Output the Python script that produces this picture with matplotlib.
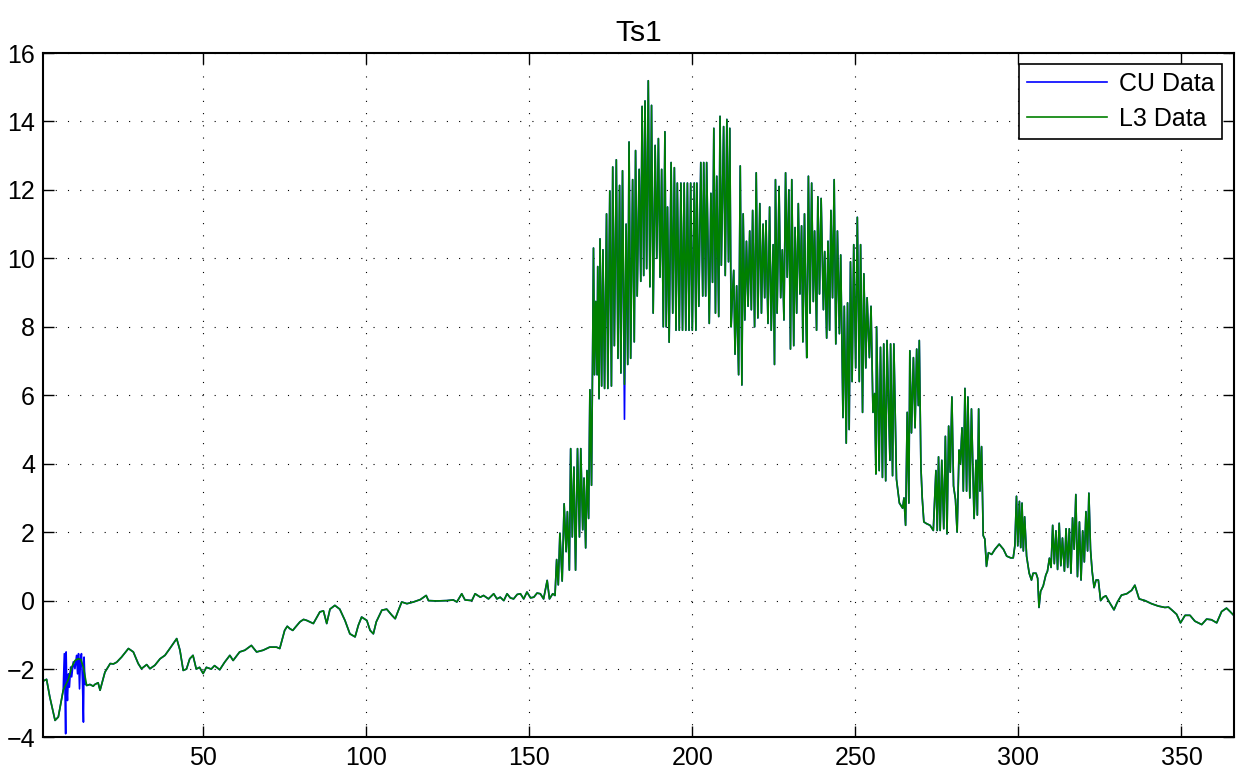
from __future__ import annotations

from typing import List

import numpy as np
import matplotlib
matplotlib.use("Agg")
import matplotlib.pyplot as plt


# --- L3 series (day of year, Ts1) ---
l3_day: List[float] = [
    1, 2, 3, 4.6, 5.6, 7.1, 8.7, 9.7, 10.7, 11.7, 12.5, 13.3, 14.3, 15.3, 16.3, 16.8,
    17.8, 18.4, 19.9, 21.5, 22.5, 23.5, 25.0, 27.1, 28.6, 30.1, 31.1, 32.7, 33.7, 35.2,
    36.8, 38.3, 39.8, 40.8, 41.9, 42.9, 43.9, 44.9, 45.9, 46.9, 47.9, 48.9, 50.0, 51.0,
    52.5, 53.5, 55.1, 56.6, 58.2, 59.2, 61.2, 62.8, 64.8, 66.4, 68.4, 70.4, 72.5, 73.5,
    75.0, 75.8, 76.6, 77.5, 78.1, 79.7, 80.8, 81.8, 83.8, 85.8, 86.9, 87.9, 88.9, 90.4,
    91.9, 93.5, 95.0, 96.6, 97.6, 98.6, 100.2, 101.2, 102.2, 103.1, 104.8, 106.3, 107.9,
    108.9, 109.9, 110.9, 112.5, 114.5, 116.6, 118.4, 119.1, 121.7, 124.7, 126.7, 127.8,
    129.3, 130.3, 132.4, 133.4, 135.0, 136.0, 137.5, 139.1, 140.1, 141.1, 142.2, 143.2,
    144.2, 145.2, 146.3, 147.3, 148.3, 149.3, 150.4, 151.4, 152.4, 153.4, 154.4, 155.5,
    156.2, 157.2, 157.9, 158.4, 158.9, 159.4, 160.1, 160.7,
    161.3, 161.7, 162.3, 162.7, 163.2, 163.7, 164.2, 164.8, 165.4, 165.8, 166.4, 166.8,
    167.3, 167.7, 168.2, 168.6, 169.1, 169.5, 169.7, 170.0, 170.4, 170.8, 171.0, 171.4,
    171.7, 172.2, 172.6, 173.1, 173.7, 174.1, 174.7, 175.2, 175.6, 176.1, 176.7, 177.2,
    177.7, 178.1, 178.6, 179.2, 179.7, 180.2, 180.6, 181.1, 181.7, 182.2, 182.6, 183.1,
    183.7, 184.2, 184.6, 185.1, 185.5, 186.0, 186.5, 187.0, 187.5, 188.0, 188.6, 189.1,
    189.6, 190.1, 190.6, 191.1, 191.6, 192.0, 192.4, 192.9, 193.5, 194.0, 194.5,
    195.0, 195.4, 196.0, 196.5, 197.0, 197.5, 198.0, 198.5, 199.0, 199.5, 200.0, 200.6,
    201.1, 201.4, 202.0, 202.6, 203.2, 203.5, 204.1, 204.4, 205.2, 205.7, 206.2, 206.6,
    207.1, 207.5, 208.1, 208.5, 208.9, 209.6, 210.1, 210.6, 211.1, 211.5, 211.9, 212.3,
    212.7, 213.1, 213.6, 214.2, 214.7, 215.2, 215.6, 216.1, 216.6, 217.1, 217.6, 218.1,
    218.5, 219.1, 219.6, 220.1, 220.7, 221.2, 221.7, 222.2, 222.6, 223.2, 223.7, 224.2,
    224.8, 225.2, 225.5, 226.0, 226.6, 227.1, 227.6, 228.1, 228.6, 229.1, 229.6, 230.1,
    230.5, 231.1, 231.5, 232.0, 232.5, 233.0, 233.5, 233.9, 234.4, 234.8, 235.1, 235.6,
    236.1, 236.6, 237.1, 237.5, 238.1, 238.5, 239.0, 239.5, 240.2, 240.6, 241.2, 241.6,
    242.1, 242.5, 243.0, 243.5, 244.0, 244.5, 245.1, 245.5, 246.2, 246.6, 247.2, 247.6,
    248.1, 248.5, 249.0, 249.5, 250.1, 250.6, 251.2, 251.6, 252.2, 252.6, 253.2, 253.6,
    254.3, 254.8, 255.4, 255.9, 256.3, 256.5, 257.3, 257.7, 258.3, 258.7, 259.3, 259.7,
    260.6, 260.8, 261.4, 261.8, 262.6, 263.5, 264.5, 264.9, 265.4, 265.9, 266.4, 266.7,
    267.2, 267.8, 268.3, 268.8, 269.3, 269.6, 270.1, 270.5, 271.0, 271.8, 272.9, 273.9,
    274.7, 275.1, 275.5, 276.0, 276.5, 277.1, 277.6, 278.1, 278.6, 279.1, 279.6, 280.1,
    280.7, 281.2, 281.8, 282.2, 282.7, 283.1, 283.6, 284.1, 284.5, 285.1, 285.6, 286.4,
    287.0, 287.4, 287.8, 288.2, 288.7, 289.2, 289.7, 290.2, 290.8, 291.8, 292.8, 294.1,
    295.4, 296.4, 297.6, 298.4, 298.9, 299.4, 299.8, 300.3, 300.7, 301.1, 301.5, 301.9,
    302.5, 303.3, 304.0, 304.5, 305.4, 305.9, 306.3, 306.8, 307.6, 308.4, 308.9, 309.5,
    310.0, 310.5, 311.0, 311.5, 312.0, 312.5, 313.0, 313.5, 314.1, 314.6, 315.1, 315.6,
    316.1, 316.6, 317.1, 317.6, 318.1, 318.7, 319.2, 319.7, 320.2, 320.7, 321.2, 321.6,
    322.1, 322.6, 323.2, 323.8, 324.5, 325.2, 326.0, 326.8, 327.9, 329.3, 330.3, 331.6,
    333.2, 334.7, 335.7, 337.0, 338.8, 340.8, 342.9, 344.9, 346.0, 347.0, 348.5, 349.7,
    351.1, 352.6, 354.1, 356.2, 357.7, 359.2, 360.8, 362.3, 363.8, 364.9, 366.0,
]

l3_ts1: List[float] = [
    -2.35, -2.3, -2.82, -3.5, -3.4, -2.62, -2.3, -1.94, -1.75, -1.7, -1.72, -1.95, -2.48, -2.45, -2.5, -2.45,
    -2.4, -2.62, -2.09, -1.84, -1.85, -1.8, -1.65, -1.4, -1.5, -1.84, -1.99, -1.87, -1.99, -1.89,
    -1.7, -1.6, -1.4, -1.26, -1.11, -1.45, -2.04, -2.0, -1.7, -1.6, -2.0, -1.95, -2.13, -1.95,
    -2.0, -1.9, -2.02, -1.8, -1.6, -1.75, -1.5, -1.45, -1.31, -1.5, -1.45, -1.36, -1.36, -1.4,
    -0.87, -0.75, -0.82, -0.87, -0.8, -0.62, -0.55, -0.58, -0.67, -0.33, -0.3, -0.67, -0.25, -0.14,
    -0.25, -0.58, -0.97, -1.06, -0.72, -0.48, -0.58, -0.87, -0.97, -0.62, -0.28, -0.25, -0.43,
    -0.53, -0.28, -0.04, -0.09, -0.04, 0.03, 0.15, 0.0, -0.01, 0.0, 0.02, -0.04,
    0.2, 0.02, 0.0, 0.2, 0.1, 0.15, 0.05, 0.2, 0.05, 0.1, 0.0, 0.2,
    0.08, 0.05, 0.18, 0.2, 0.05, 0.25, 0.08, 0.1, 0.22, 0.2, 0.05, 0.59,
    0.05, 0.2, 0.15, 1.2, 0.46, 1.97, 0.57, 2.83,
    1.43, 2.6, 0.89, 4.44, 1.86, 3.9, 0.89, 4.44, 1.86, 4.44, 2.07, 3.58,
    1.54, 3.8, 2.4, 6.16, 3.37, 8.0, 10.3, 6.6, 8.74, 6.6, 9.76, 5.9,
    10.57, 6.27, 10.25, 6.2, 11.3, 6.2, 11.97, 6.27, 12.67, 7.45, 12.88, 7.08,
    12.13, 6.65, 12.56, 6.32, 11.0, 6.9, 13.4, 7.08, 12.3, 7.56, 13.15, 8.9,
    12.6, 9.33, 14.44, 9.5, 14.6, 9.7, 15.19, 9.17, 14.47, 8.4, 13.3, 10.0,
    13.5, 9.45, 12.6, 8.0, 13.7, 8.0, 11.5, 7.55, 12.8, 8.4, 12.65,
    7.9, 12.2, 7.9, 12.2, 7.9, 12.2, 7.9, 12.2, 7.9, 12.2, 7.9, 12.2,
    7.9, 12.2, 8.6, 12.8, 8.9, 12.8, 8.9, 12.8, 8.1, 11.9, 9.3, 13.8,
    8.4, 12.4, 8.3, 14.15, 9.8, 13.85, 9.5, 14.06, 9.9, 13.8, 8.0, 8.9,
    9.65, 7.2, 9.2, 6.6, 12.7, 6.3, 11.3, 8.2, 10.5, 8.6, 10.8, 8.5,
    11.4, 8.0, 12.5, 8.26, 11.6, 8.4, 11.0, 8.85, 11.1, 8.1, 11.5, 7.9,
    10.4, 6.9, 12.3, 8.4, 12.1, 8.85, 10.25, 8.2, 12.5, 9.45, 12.0, 7.35,
    12.3, 7.45, 10.9, 8.4, 11.6, 8.96, 10.95, 7.56, 11.3, 8.6, 7.1, 12.4,
    8.4, 12.2, 8.74, 10.8, 7.9, 11.8, 8.96, 11.75, 8.5, 10.2, 7.67, 10.5,
    7.9, 11.4, 8.85, 12.3, 7.5, 10.8, 7.8, 10.1, 5.35, 8.6, 4.6, 8.7,
    5.0, 9.9, 6.4, 10.4, 6.8, 11.2, 6.4, 10.4, 5.5, 9.55, 6.8, 8.85,
    7.1, 8.6, 5.5, 6.05, 3.7, 8.0, 3.8, 7.4, 3.6, 7.5, 3.5, 7.6,
    4.1, 7.5, 3.65, 7.5, 3.55, 2.85, 2.7, 3.0, 2.2, 5.5, 2.85, 7.3,
    4.9, 7.1, 5.05, 7.35, 5.7, 7.6, 3.9, 3.0, 2.3, 2.25, 2.2, 2.05,
    3.8, 2.05, 4.2, 2.05, 4.1, 2.1, 4.8, 1.95, 5.1, 3.75, 5.95, 3.35,
    2.95, 2.0, 4.4, 4.0, 5.05, 3.2, 6.2, 3.2, 5.95, 3.0, 5.6, 2.4,
    4.1, 2.5, 5.6, 3.2, 4.5, 1.9, 1.8, 1.0, 1.4, 1.35, 1.5, 1.65,
    1.5, 1.3, 1.25, 1.25, 1.6, 3.05, 1.6, 2.9, 1.55, 2.85, 1.45, 2.45,
    1.3, 0.8, 0.6, 0.8, 0.8, 0.65, -0.2, 0.27, 0.43, 0.75, 0.86, 1.24,
    0.97, 2.2, 1.08, 2.04, 0.91, 2.26, 1.02, 1.83, 0.86, 2.1, 0.97, 2.1,
    0.8, 2.42, 1.5, 3.1, 0.7, 2.3, 0.6, 2.04, 1.13, 2.6, 1.45, 3.14,
    1.5, 0.86, 0.38, 0.6, 0.6, 0.0, 0.1, 0.14, -0.05, -0.27, -0.05, 0.16,
    0.2, 0.3, 0.45, 0.05, 0.0, -0.09, -0.16, -0.2, -0.19, -0.27, -0.4, -0.65,
    -0.43, -0.43, -0.6, -0.7, -0.54, -0.56, -0.65, -0.32, -0.22, -0.32, -0.43,
]

# --- CU series differs only where the blue shows through ---
cu_spike_day: List[float] = [
    7.45, 7.65, 7.85, 8.0, 8.2, 8.4, 8.7, 9.0, 9.4, 9.7, 10.2, 10.7,
    11.2, 11.5, 11.8, 12.1, 12.4, 12.7, 13.0, 13.3, 13.5, 13.8,
]
cu_spike_ts1: List[float] = [
    -1.55, -2.62, -3.89, -1.5, -2.55, -2.92, -2.14, -2.53, -1.94, -2.23, -1.79, -1.99,
    -1.6, -2.14, -1.55, -2.58, -1.7, -1.55, -2.33, -3.55, -1.65, -2.43,
]
cu_dip_day = 179.2
cu_dip_ts1 = 5.3

x_ticks = [50, 100, 150, 200, 250, 300, 350]
y_ticks = list(range(-4, 17, 2))


def build_cu(day: np.ndarray, ts1: np.ndarray) -> tuple:
    keep = (day < cu_spike_day[0]) | (day > cu_spike_day[-1])
    d = np.concatenate([day[keep], cu_spike_day])
    v = np.concatenate([ts1[keep], cu_spike_ts1])
    order = np.argsort(d, kind="stable")
    d, v = d[order], v[order]
    v[np.isclose(d, cu_dip_day)] = cu_dip_ts1
    return d, v


def main() -> None:
    plt.rcParams["font.family"] = ["Liberation Sans", "DejaVu Sans"]
    plt.rcParams["font.size"] = 18

    day = np.array(l3_day, dtype=float)
    ts1 = np.array(l3_ts1, dtype=float)
    cu_d, cu_v = build_cu(day, ts1)

    fig = plt.figure(figsize=(12.41, 7.81), dpi=100)
    ax = fig.add_axes([0.0349, 0.0557, 0.9592, 0.8764])

    ax.plot(cu_d, cu_v, color=(0, 0, 1), lw=1.2, label="CU Data")
    ax.plot(day, ts1, color=(0, 0.5, 0), lw=1.2, label="L3 Data")

    ax.set_xlim(1, 366)
    ax.set_ylim(-4, 16)
    ax.set_xticks(x_ticks)
    ax.set_yticks(y_ticks)
    ax.grid(True, color="k", lw=0.8, linestyle=(0, (1, 10)))
    ax.tick_params(direction="in", length=8, width=1, top=True, right=True, pad=6)
    for s in ax.spines.values():
        s.set_linewidth(1.5)

    ax.set_title("Ts1", pad=9)
    leg = ax.legend(loc="upper right", fancybox=False, framealpha=1, edgecolor="k",
                    borderaxespad=0.45, handlelength=3.2, labelspacing=0.45,
                    borderpad=0.3, handletextpad=0.5)
    leg.get_frame().set_linewidth(1.2)

    fig.savefig("out.png", dpi=100)


if __name__ == "__main__":
    main()
